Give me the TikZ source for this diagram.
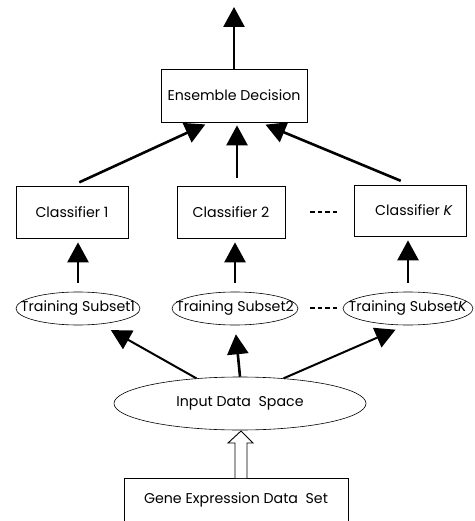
\documentclass[tikz,border=0pt]{standalone}
\usepackage{fontspec}
\setmainfont{Poppins}
\usetikzlibrary{arrows.meta,shapes.geometric}

\tikzset{
  box/.style={draw,line width=0.7pt,inner sep=0pt},
  oval/.style={ellipse,draw,line width=0.6pt,inner sep=0pt,minimum height=33pt},
  flow/.style={->,line width=2.6pt},
  dots/.style={line width=1.8pt,dash pattern=on 4.5pt off 3pt}
}

\begin{document}
\begin{tikzpicture}[x=1pt,y=-1pt,>={Triangle[length=20pt,width=21pt]},
    font=\fontsize{14.2}{16}\selectfont]
    \useasboundingbox (0,0) rectangle (474,521);

    % boxes and ovals
    \node[box,minimum width=146pt,minimum height=53pt] (ens) at (234,95.5) {Ensemble Decision};
    \node[box,minimum width=112pt,minimum height=52pt] (cls1) at (72,212) {Classifier 1};
    \node[box,minimum width=108pt,minimum height=52pt] (cls2) at (231,212) {Classifier 2};
    \node[box,minimum width=112pt,minimum height=51pt] (clsK) at (410,210.5) {\hspace{8pt}Classifier \textit{K}};
    \node[oval,minimum width=124pt,label=center:{Training Subset1}] (sub1) at (78,308.5) {};
    \node[oval,minimum width=126pt,label=center:{Training Subset2}] (sub2) at (235,308.5) {};
    \node[oval,minimum width=130pt,label=center:{Training Subset\textit{K}}] (subK) at (408,308.5) {};
    \node[oval,minimum width=252pt,minimum height=53pt,label=center:{Input Data\ \ Space}] (input) at (240,403.5) {};
    \node[box,anchor=north,minimum width=224pt,minimum height=44pt] (gene) at (236,478) {Gene Expression Data\ \ Set};
    \coordinate (out) at (234,7);

    % arrows
    \draw[flow] (ens.north) -- (out);
    \draw[flow,shorten <=8pt,shorten >=5pt] (cls1.north) -- (ens.228);
    \draw[flow,shorten >=3pt] (ens.south -| 237,0) ++(0,56) -- (ens.south -| 237,0);
    \draw[flow,shorten <=10pt,shorten >=6pt] (clsK.north) -- (ens.314);
    \draw[flow,shorten <=9pt,shorten >=4pt] (sub1.north) -- (sub1.north |- cls1.south);
    \draw[flow,shorten <=9pt,shorten >=4pt] (sub2.north) -- (sub2.north |- cls2.south);
    \draw[flow,shorten <=9pt,shorten >=4pt] (subK.north) -- (subK.north |- clsK.south);
    \draw[flow,line width=2pt,shorten >=12pt] (input.150) -- (sub1.325);
    \draw[flow,line width=2.6pt,shorten >=9pt] (input.north) -- (sub2.south);
    \draw[flow,line width=2pt,shorten >=11pt] (input.30) -- (subK.262);

    % hollow arrow
    \draw[line width=0.9pt,fill=white] (235,478) -- (235,443) -- (228,443) -- (241,431)
      -- (253,443) -- (247,443) -- (247,478);

    % dots between columns
    \draw[dots] (310,212) -- (338,212);
    \draw[dots] (310,308) -- (340,308);
\end{tikzpicture}
\end{document}
